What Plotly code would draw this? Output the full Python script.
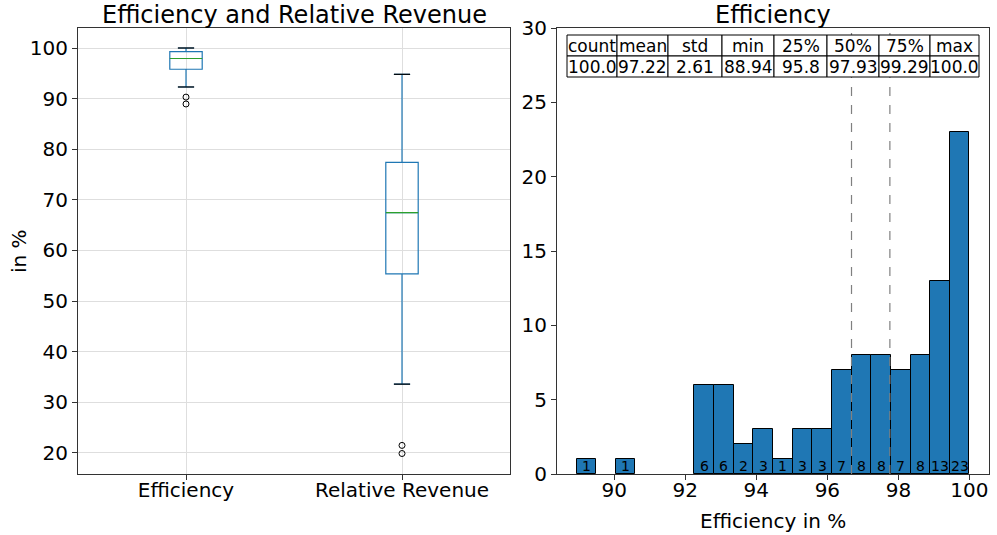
import numpy as np
import plotly.graph_objects as go

# ---------------- data ----------------
box_names = ["Efficiency", "Relative Revenue"]
box_q1 = [95.8, 55.4]
box_median = [97.93, 67.5]
box_q3 = [99.29, 77.4]
box_low_whisker = [92.3, 33.6]
box_high_whisker = [100.0, 94.8]
box_outliers = [[90.3, 88.94], [21.5, 19.9]]

hist_counts = [1, 0, 1, 0, 0, 0, 6, 6, 2, 3, 1, 3, 3, 7, 8, 8, 7, 8, 13, 23]

stat_labels = ["count", "mean", "std", "min", "25%", "50%", "75%", "max"]
stat_values = ["100.0", "97.22", "2.61", "88.94", "95.8", "97.93", "99.29", "100.0"]
eff_min, eff_max = 88.94, 100.0

marker_lines = [96.68, 97.76]

# ---------------- styling ----------------
W, H = 997, 535
FONT = "DejaVu Sans"
BLUE = "#1f77b4"
GREEN = "#2ca02c"
SPINE = "#333333"
GRID = "#dedede"
BOX_W = 0.15


def px_x(p):
    return p / W


def px_y(p):
    return 1 - p / H


fig = go.Figure()

# ---- left panel: box plots ----
positions = [1, 2]
for i, pos in enumerate(positions):
    fig.add_trace(go.Box(
        x=[pos], q1=[box_q1[i]], median=[box_median[i]], q3=[box_q3[i]],
        lowerfence=[box_low_whisker[i]], upperfence=[box_high_whisker[i]],
        width=BOX_W, whiskerwidth=0.5, boxpoints=False,
        line=dict(color=BLUE, width=1.2), fillcolor="rgba(0,0,0,0)",
        xaxis="x", yaxis="y", showlegend=False, hoverinfo="skip",
    ))
    # median line
    fig.add_trace(go.Scatter(
        x=[pos - BOX_W / 2, pos + BOX_W / 2], y=[box_median[i]] * 2,
        mode="lines", line=dict(color=GREEN, width=1.2),
        xaxis="x", yaxis="y", showlegend=False, hoverinfo="skip",
    ))
    # whisker caps
    for v in (box_low_whisker[i], box_high_whisker[i]):
        fig.add_trace(go.Scatter(
            x=[pos - BOX_W / 4, pos + BOX_W / 4], y=[v, v],
            mode="lines", line=dict(color="black", width=1.2),
            xaxis="x", yaxis="y", showlegend=False, hoverinfo="skip",
        ))
    # fliers
    fig.add_trace(go.Scatter(
        x=[pos] * len(box_outliers[i]), y=box_outliers[i], mode="markers",
        marker=dict(symbol="circle-open", size=6, color="black", line=dict(width=1)),
        xaxis="x", yaxis="y", showlegend=False, hoverinfo="skip",
    ))

# ---- right panel: histogram ----
edges = np.linspace(eff_min, eff_max, len(hist_counts) + 1)
centers = (edges[:-1] + edges[1:]) / 2
bin_w = edges[1] - edges[0]

for v in marker_lines:
    fig.add_trace(go.Scatter(
        x=[v, v], y=[0, 30], mode="lines",
        line=dict(color="gray", width=1.2, dash="dash"),
        xaxis="x2", yaxis="y2", showlegend=False, hoverinfo="skip",
    ))

fig.add_trace(go.Bar(
    x=centers, y=[c if c > 0 else None for c in hist_counts], width=bin_w,
    marker=dict(color=BLUE, line=dict(color="black", width=1)),
    xaxis="x2", yaxis="y2", showlegend=False,
))

annotations = []
# per-bin counts written at the foot of each bar
for xc, c in zip(centers, hist_counts):
    if c > 0:
        annotations.append(dict(
            xref="x2", yref="y2", x=xc, y=0, text=str(c), showarrow=False,
            xanchor="center", yanchor="bottom", yshift=-2,
            font=dict(family=FONT, size=14, color="black"),
        ))

# ---- summary table drawn over the histogram ----
col_edges = [567, 617, 668, 722, 774, 827, 879, 930, 979]
row_edges = [35, 56, 77]
shapes = []
for r, row in enumerate([stat_labels, stat_values]):
    for c, txt in enumerate(row):
        x0, x1 = col_edges[c], col_edges[c + 1]
        y0, y1 = row_edges[r], row_edges[r + 1]
        shapes.append(dict(
            type="rect", xref="paper", yref="paper", layer="above",
            x0=px_x(x0), x1=px_x(x1), y0=px_y(y1), y1=px_y(y0),
            line=dict(color="black", width=1), fillcolor="white",
        ))
        annotations.append(dict(
            xref="paper", yref="paper", x=px_x((x0 + x1) / 2), y=px_y((y0 + y1) / 2),
            text=txt, showarrow=False, xanchor="center", yanchor="middle",
            font=dict(family=FONT, size=17, color="black"),
        ))

# titles and axis labels
annotations += [
    dict(xref="paper", yref="paper", x=px_x(294), y=px_y(15), text="Efficiency and Relative Revenue",
         showarrow=False, xanchor="center", yanchor="middle", font=dict(family=FONT, size=24, color="black")),
    dict(xref="paper", yref="paper", x=px_x(773), y=px_y(15), text="Efficiency",
         showarrow=False, xanchor="center", yanchor="middle", font=dict(family=FONT, size=24, color="black")),
    dict(xref="paper", yref="paper", x=px_x(19), y=px_y(251), text="in %", textangle=-90,
         showarrow=False, xanchor="center", yanchor="middle", font=dict(family=FONT, size=20, color="black")),
    dict(xref="paper", yref="paper", x=px_x(773), y=px_y(521), text="Efficiency in %",
         showarrow=False, xanchor="center", yanchor="middle", font=dict(family=FONT, size=20, color="black")),
]

axis_common = dict(
    showline=True, linecolor=SPINE, linewidth=1, mirror=True,
    ticks="outside", ticklen=5, tickcolor=SPINE, zeroline=False,
    tickfont=dict(family=FONT, size=20, color="black"),
)

fig.update_layout(
    width=W, height=H,
    margin=dict(l=0, r=0, t=0, b=0, autoexpand=False),
    paper_bgcolor="white", plot_bgcolor="white",
    bargap=0,
    xaxis=dict(domain=[px_x(78), px_x(510)], range=[0.5, 2.5],
               tickvals=positions, ticktext=box_names, ticklabelstandoff=-7,
               showgrid=True, gridcolor=GRID, anchor="y", **axis_common),
    yaxis=dict(domain=[px_y(474), px_y(28)], range=[15.85, 103.95],
               tickvals=list(range(20, 101, 10)),
               showgrid=True, gridcolor=GRID, anchor="x", **axis_common),
    xaxis2=dict(domain=[px_x(557), px_x(989)], range=[88.39, 100.55],
                tickvals=list(range(90, 101, 2)), ticklabelstandoff=-7,
                showgrid=False, anchor="y2", **axis_common),
    yaxis2=dict(domain=[px_y(474), px_y(28)], range=[0, 30],
                tickvals=list(range(0, 31, 5)), showgrid=False, anchor="x2", **axis_common),
    shapes=shapes,
    annotations=annotations,
    font=dict(family=FONT, color="black"),
)

fig.write_html("out.html")
